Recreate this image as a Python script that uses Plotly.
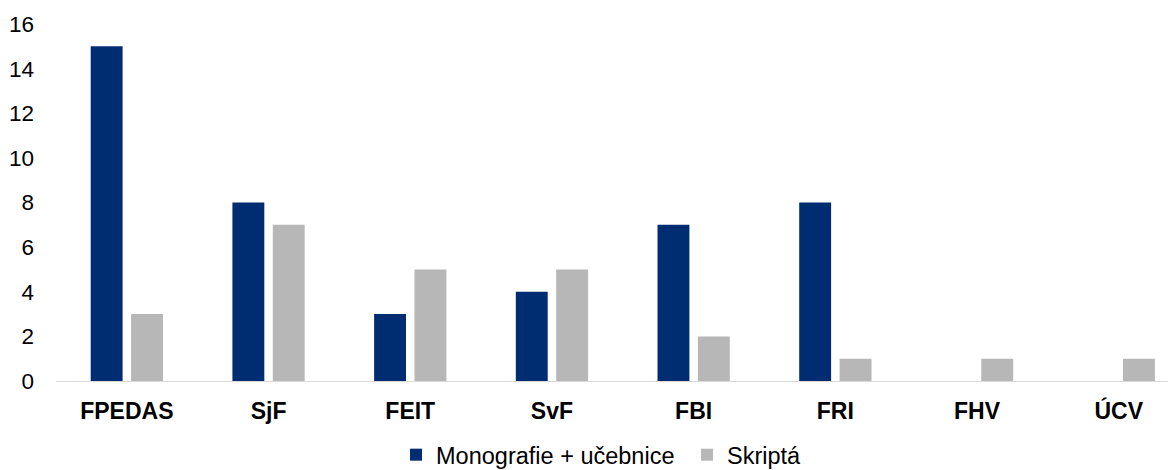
import plotly.graph_objects as go

categories = ["FPEDAS", "SjF", "FEIT", "SvF", "FBI", "FRI", "FHV", "ÚCV"]
monografie = [15, 8, 3, 4, 7, 8, 0, 0]
skripta = [3, 7, 5, 5, 2, 1, 1, 1]
y_ticks = [0, 2, 4, 6, 8, 10, 12, 14, 16]

FONT = "Liberation Sans, Arial, sans-serif"

fig = go.Figure()
fig.add_trace(go.Bar(x=categories, y=monografie, name="Monografie + učebnice",
                     marker=dict(color="#002D72", line=dict(width=0))))
fig.add_trace(go.Bar(x=categories, y=skripta, name="Skriptá",
                     marker=dict(color="#B7B7B7", line=dict(width=0))))

# the page adds an 8px body margin, so the figure is sized/positioned to compensate
fig.update_layout(
    width=1168, height=462,
    margin=dict(l=48, r=0, t=16, b=89, autoexpand=False),
    plot_bgcolor="white", paper_bgcolor="white",
    barmode="group", bargap=0.43, bargroupgap=0.21,
    font=dict(family=FONT, size=22.5, color="#000000"),
    showlegend=True,
    legend=dict(orientation="h", x=0.3036, xanchor="left", y=-0.207, yanchor="middle",
                font=dict(size=23.5), traceorder="normal", itemwidth=30,
                entrywidth=246, entrywidthmode="pixels"),
    xaxis=dict(showgrid=False, showline=True, linecolor="#D9D9D9", linewidth=1,
               range=[-0.5, 7.404], automargin=False,
               ticks="", tickfont=dict(size=23, family=FONT),
               ticklabelstandoff=9),
    yaxis=dict(range=[0, 16], tickvals=y_ticks, showgrid=False, zeroline=False,
               showline=False, ticks="", tickfont=dict(size=22.5), automargin=False,
               ticklabelstandoff=21),
)
fig.update_xaxes(tickprefix="<b>", ticksuffix="</b>")

fig.write_html("out.html")
